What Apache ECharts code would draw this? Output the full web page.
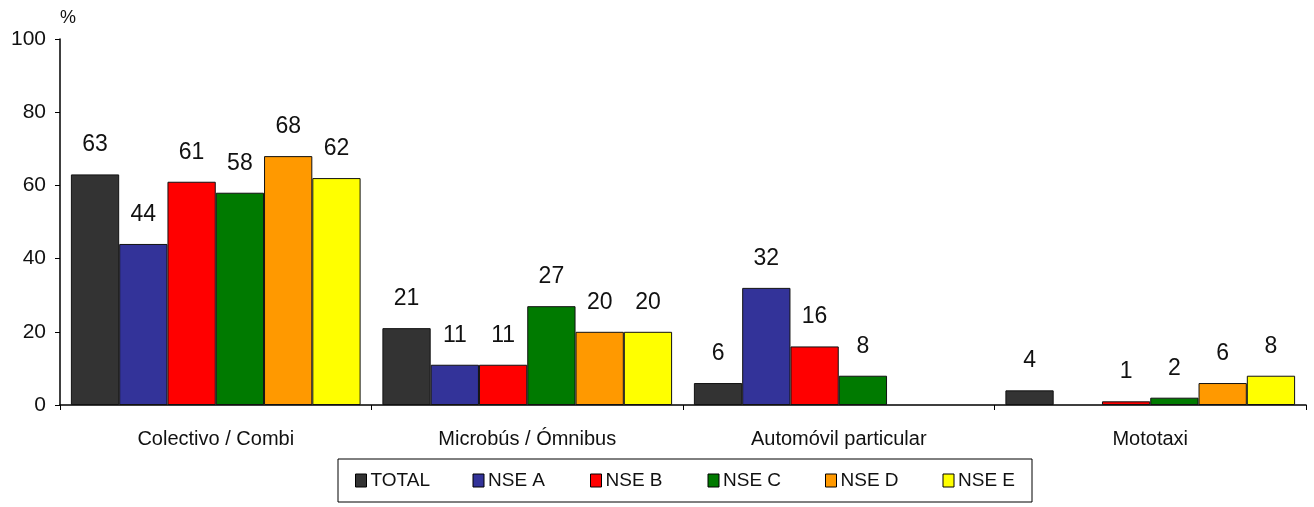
<!DOCTYPE html>
<html>
<head>
<meta charset="utf-8">
<script src="https://cdn.jsdelivr.net/npm/echarts@6/dist/echarts.min.js"></script>
<style>
  html, body { margin: 0; padding: 0; background: #fff; }
  #chart { width: 1314px; height: 507px; }
</style>
</head>
<body>
<div id="chart"></div>
<script>
// Modo de transporte por nivel socioeconómico (%)
const categories = ['Colectivo / Combi', 'Microbús / Ómnibus', 'Automóvil particular', 'Mototaxi'];
const seriesNames = ['TOTAL', 'NSE A', 'NSE B', 'NSE C', 'NSE D', 'NSE E'];
const total = [63, 21, 6, 4];
const nseA = [44, 11, 32, '-'];
const nseB = [61, 11, 16, 1];
const nseC = [58, 27, 8, 2];
const nseD = [68, 20, '-', 6];
const nseE = [62, 20, '-', 8];
const yTicks = [0, 20, 40, 60, 80, 100];

const seriesValues = [total, nseA, nseB, nseC, nseD, nseE];
const colors = ['#333333', '#333399', '#ff0000', '#007a00', '#ff9900', '#ffff00'];
const font = "'Liberation Sans', Arial, sans-serif";

const chart = echarts.init(document.getElementById('chart'), null, { renderer: 'canvas' });

chart.setOption({
  backgroundColor: '#ffffff',
  animation: false,
  textStyle: { fontFamily: font, color: '#111' },
  grid: { left: 60, right: 8, top: 39, bottom: 102, containLabel: false },
  legend: {
    data: seriesNames,
    left: 338,
    top: 459,
    orient: 'horizontal',
    icon: 'rect',
    itemWidth: 11,
    itemHeight: 13,
    itemGap: 40,
    padding: [12, 12, 12, 17],
    borderColor: '#000',
    borderWidth: 1,
    backgroundColor: '#fff',
    itemStyle: { borderColor: '#000', borderWidth: 1 },
    textStyle: { fontFamily: font, fontSize: 19, color: '#111', width: 62, lineHeight: 19, padding: [0, 0, 0, -1] }
  },
  xAxis: {
    type: 'category',
    data: categories,
    axisLine: { lineStyle: { color: '#000', width: 1.5 } },
    axisTick: { show: true, length: 5, lineStyle: { color: '#000' } },
    axisLabel: { fontFamily: font, fontSize: 20, color: '#111', margin: 24 }
  },
  yAxis: {
    type: 'value',
    min: yTicks[0],
    max: yTicks[yTicks.length - 1],
    interval: yTicks[1] - yTicks[0],
    name: '%',
    nameLocation: 'end',
    nameGap: 12,
    nameTextStyle: { fontFamily: font, fontSize: 18, color: '#111', align: 'left' },
    splitLine: { show: false },
    axisLine: { show: true, lineStyle: { color: '#000', width: 1.5 } },
    axisTick: { show: true, length: 5, inside: false, lineStyle: { color: '#000' } },
    axisLabel: { fontFamily: font, fontSize: 21, color: '#111', margin: 14 }
  },
  series: seriesNames.map((name, i) => ({
    name: name,
    type: 'bar',
    data: seriesValues[i],
    barGap: '0%',
    barCategoryGap: '7%',
    itemStyle: { color: colors[i], borderColor: '#111', borderWidth: 1 },
    label: {
      show: true,
      position: 'top',
      distance: 18,
      fontFamily: font,
      fontSize: 23,
      color: '#111'
    }
  }))
});
</script>
</body>
</html>
